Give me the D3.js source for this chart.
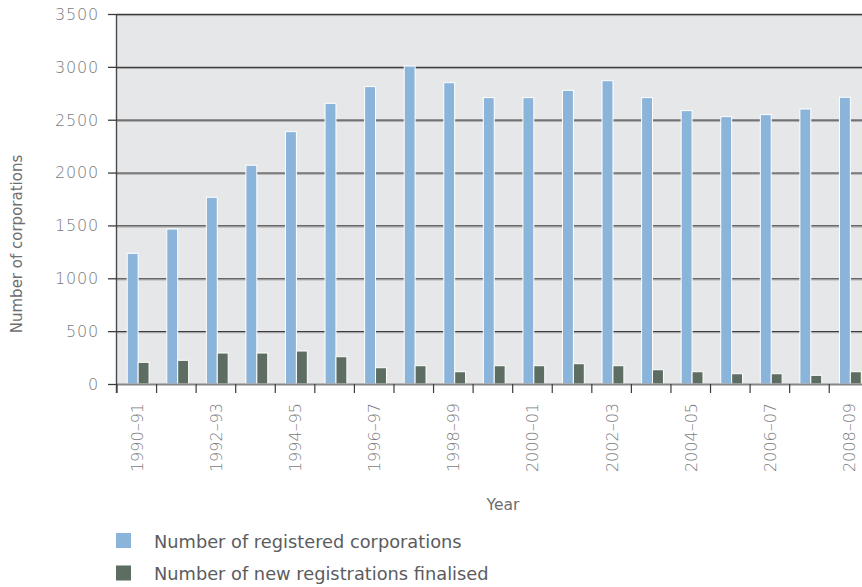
<!DOCTYPE html>
<html>
<head>
<meta charset="utf-8">
<script src="https://cdn.jsdelivr.net/npm/d3@7"></script>
<style>
  html, body { margin: 0; padding: 0; background: #fff; }
  svg { display: block; font-family: "DejaVu Sans", sans-serif; }
</style>
</head>
<body>
<svg id="chart" width="862" height="587"></svg>
<script>
const years = ["1990–91","1991–92","1992–93","1993–94","1994–95","1995–96","1996–97","1997–98","1998–99","1999–00","2000–01","2001–02","2002–03","2003–04","2004–05","2005–06","2006–07","2007–08","2008–09"];
const registered = [1236,1466,1766,2069,2387,2655,2813,3008,2850,2709,2709,2778,2869,2709,2586,2529,2548,2601,2712];
const newRegistrations = [205,224,293,293,312,258,154,173,116,173,173,192,173,135,116,97,97,82,116];
const yTicks = [0,500,1000,1500,2000,2500,3000,3500];
const seriesNames = ["Number of registered corporations","Number of new registrations finalised"];
const seriesColors = ["#8ab4d9","#5d6d61"];

(function () {
const svg = d3.select("#chart");
const mLeft = 117, mTop = 14, mBottom = 384, plotRight = 868.8;

const x = d3.scaleBand().domain(years).range([mLeft, plotRight]).padding(0);
const bw = x.bandwidth();
const sub = d3.scaleBand().domain([0,1]).range([bw*0.258, bw*0.81]).padding(0);
const y = d3.scaleLinear().domain([0,3500]).range([mBottom, mTop]);

// background
svg.append("rect").attr("x", mLeft).attr("y", mTop)
  .attr("width", plotRight - mLeft).attr("height", mBottom - mTop)
  .attr("fill", "#e6e7e9");

// gridlines
const grid = svg.append("g");
grid.selectAll("line.g1").data(yTicks.filter(d => d > 0)).join("line")
  .attr("x1", mLeft).attr("x2", plotRight)
  .attr("y1", d => y(d) + 0.5).attr("y2", d => y(d) + 0.5)
  .attr("stroke", "#3c3c3c").attr("stroke-width", 1.3);
grid.selectAll("line.g2").data(yTicks.filter(d => d > 0)).join("line")
  .attr("x1", mLeft).attr("x2", plotRight)
  .attr("y1", d => y(d) + 1.6).attr("y2", d => y(d) + 1.6)
  .attr("stroke", "#a3a4a6").attr("stroke-width", 1);

// bars
const groups = svg.append("g").selectAll("g").data(years).join("g")
  .attr("transform", d => `translate(${x(d)},0)`);
groups.append("rect")
  .attr("x", sub(0)).attr("width", sub.bandwidth())
  .attr("y", (d,i) => y(registered[i])).attr("height", (d,i) => mBottom - y(registered[i]))
  .attr("fill", seriesColors[0]).attr("stroke", "#ffffff").attr("stroke-width", 1);
groups.append("rect")
  .attr("x", sub(1)).attr("width", sub.bandwidth())
  .attr("y", (d,i) => y(newRegistrations[i])).attr("height", (d,i) => mBottom - y(newRegistrations[i]))
  .attr("fill", seriesColors[1]).attr("stroke", "#ffffff").attr("stroke-width", 1);

// baseline
svg.append("line").attr("x1", mLeft).attr("x2", plotRight)
  .attr("y1", mBottom + 0.5).attr("y2", mBottom + 0.5)
  .attr("stroke", "#858688").attr("stroke-width", 2);

// left axis line
svg.append("line").attr("x1", mLeft - 0.5).attr("x2", mLeft - 0.5)
  .attr("y1", mTop).attr("y2", mBottom + 9)
  .attr("stroke", "#4a4a4a").attr("stroke-width", 1.4);

// y ticks and labels
const yAxis = svg.append("g");
yAxis.selectAll("line").data(yTicks).join("line")
  .attr("x1", mLeft - 9).attr("x2", mLeft)
  .attr("y1", d => y(d) + 0.5).attr("y2", d => y(d) + 0.5)
  .attr("stroke", "#3c3c3c").attr("stroke-width", 1.3);
yAxis.selectAll("text").data(yTicks).join("text")
  .attr("x", 99).attr("y", d => y(d)).attr("dy", "0.37em")
  .attr("text-anchor", "end")
  .attr("font-size", 16).attr("letter-spacing", 0.8).attr("font-weight", 300)
  .attr("fill", "#7a7b7d")
  .text(d => d);

// x ticks at band boundaries
const xAxis = svg.append("g");
xAxis.selectAll("line").data(years).join("line")
  .attr("x1", d => x(d)).attr("x2", d => x(d))
  .attr("y1", mBottom).attr("y2", mBottom + 9)
  .attr("stroke", "#3c3c3c").attr("stroke-width", 1.2);
xAxis.selectAll("text").data(years.filter((d,i) => i % 2 === 0)).join("text")
  .attr("transform", d => `translate(${x(d) + bw/2 + 6},403) rotate(-90)`)
  .attr("text-anchor", "end")
  .attr("font-size", 16).attr("font-weight", 300)
  .attr("fill", "#7a7b7d")
  .text(d => d);

// axis titles
svg.append("text").attr("x", 503).attr("y", 510)
  .attr("text-anchor", "middle").attr("font-size", 15.5)
  .attr("fill", "#6d6e70").text("Year");
svg.append("text").attr("transform", "translate(22,244) rotate(-90)")
  .attr("text-anchor", "middle").attr("font-size", 15)
  .attr("fill", "#6d6e70").text("Number of corporations");

// legend
const legend = svg.append("g").selectAll("g").data(seriesNames).join("g")
  .attr("transform", (d,i) => `translate(116,${533 + i*32.5})`);
legend.append("rect").attr("width", 15).attr("height", 15)
  .attr("fill", (d,i) => seriesColors[i]);
legend.append("text").attr("x", 38).attr("y", 14.5)
  .attr("font-size", 17.8).attr("fill", "#5b5c5e")
  .text(d => d);
})();
</script>
</body>
</html>
